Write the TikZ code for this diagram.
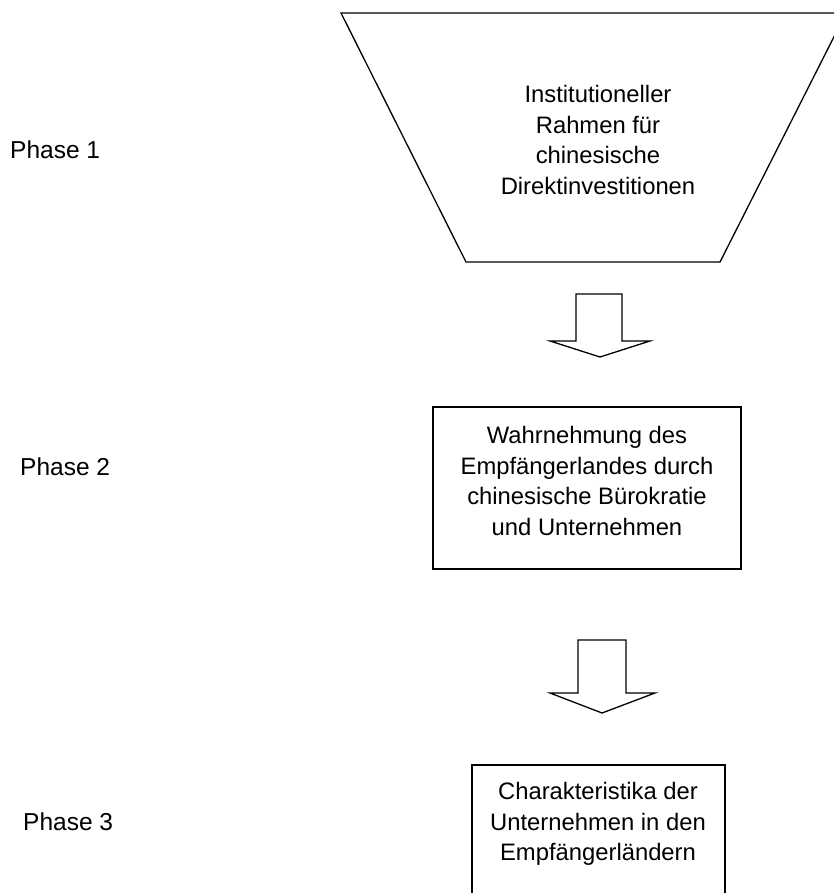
\documentclass[tikz,border=0pt]{standalone}
\usepackage{fontspec}
\setmainfont{Liberation Sans}
\begin{document}
\begin{tikzpicture}[x=1pt,y=-1pt,
  txt/.style={font=\fontsize{23.8}{30.7}\selectfont, align=center, inner sep=0pt},
  lbl/.style={font=\fontsize{24.5}{30}\selectfont, anchor=west, inner sep=0pt},
  line/.style={draw=black, line width=1.3pt, line join=miter}]
\useasboundingbox (0,0) rectangle (834,893);
\begin{scope}
\clip (0,0) rectangle (834,893);
% trapezoid
\draw[line] (341,13) -- (846,13) -- (720,262) -- (466,262) -- cycle;
\node[txt] (t1) at (598,140) {Institutioneller\\Rahmen für\\chinesische\\Direktinvestitionen};
% arrow 1
\draw[line] (576,294) -- (622,294) -- (622,341) -- (650,341) -- (600,357) -- (550,341) -- (576,341) -- cycle;
% box 2
\node[draw=black, line width=1.3pt, minimum width=308pt, minimum height=162pt, inner sep=0pt] (b2) at (587,488) {};
\node[txt] (t2) at (587,481) {Wahrnehmung des\\Empfängerlandes durch\\chinesische Bürokratie\\und Unternehmen};
% arrow 2
\draw[line] (578,640) -- (626,640) -- (626,693) -- (655,693) -- (602,713) -- (550,693) -- (578,693) -- cycle;
% box 3
\draw[line] (472,900) -- (472,765) -- (725,765) -- (725,900);
\node[txt] (t3) at (598,824) {Charakteristika der\\Unternehmen in den\\Empfängerländern};
\end{scope}
\node[lbl] (p1) at (10,150) {Phase 1};
\node[lbl] (p2) at (20,467) {Phase 2};
\node[lbl] (p3) at (23,822) {Phase 3};
\end{tikzpicture}
\end{document}
